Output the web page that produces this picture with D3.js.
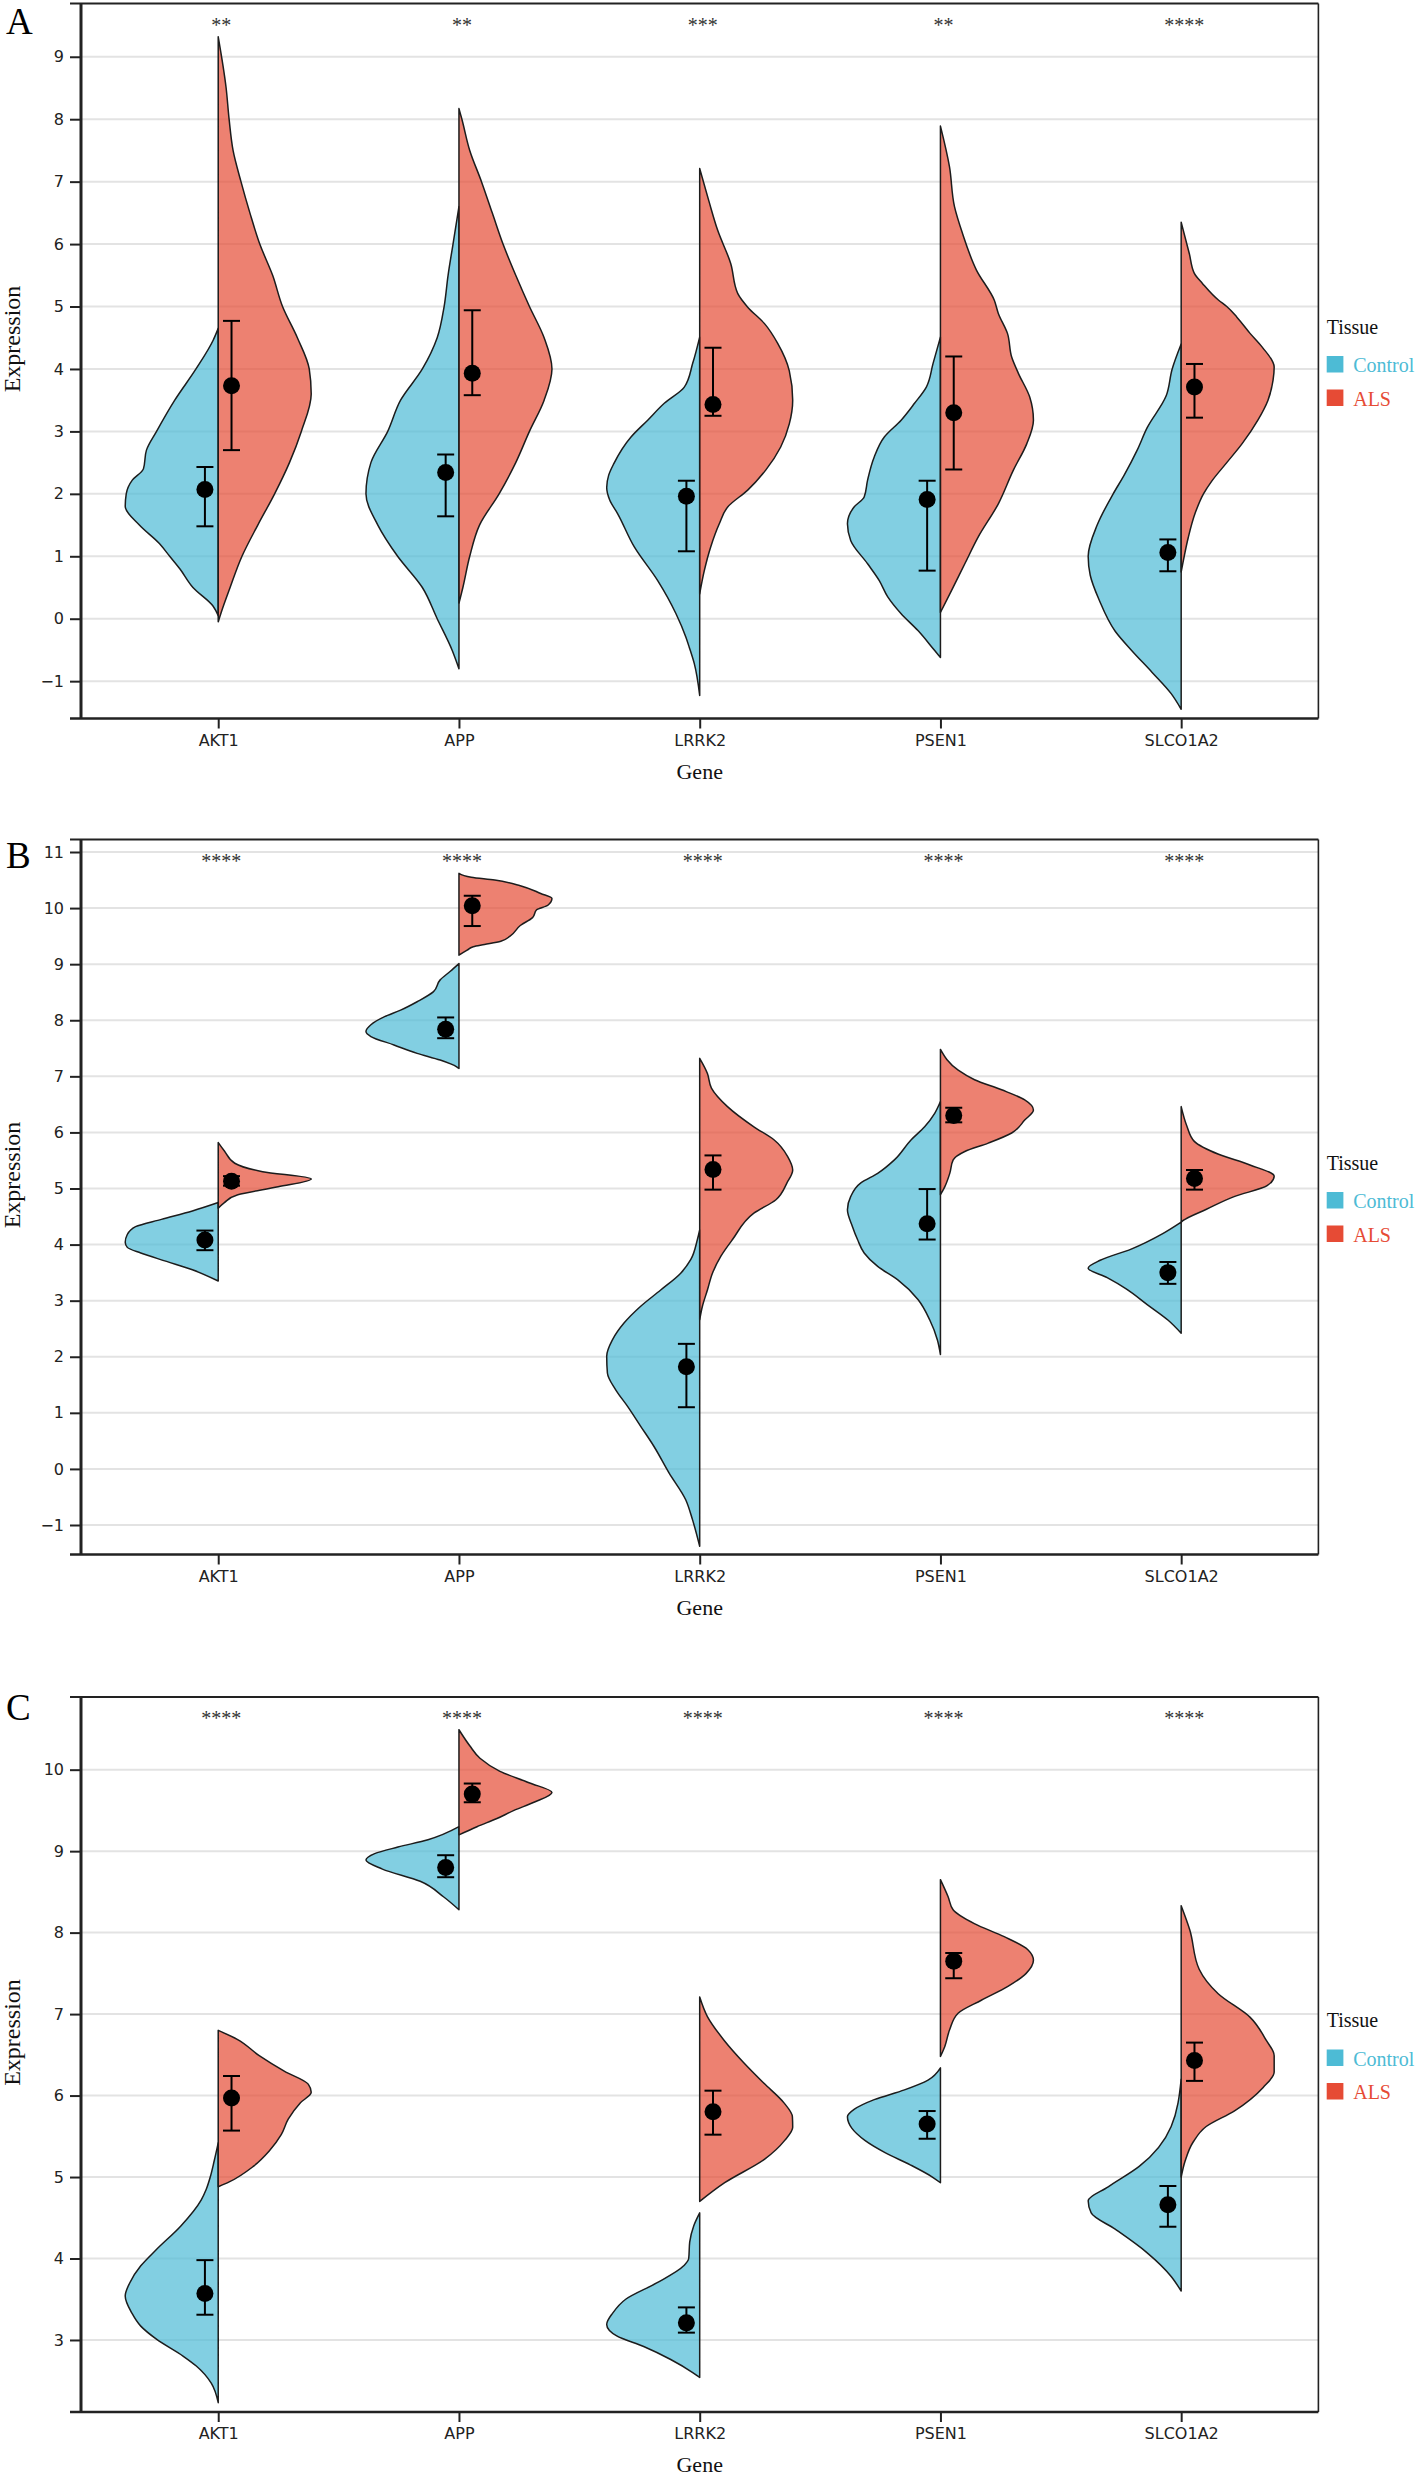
<!DOCTYPE html>
<html>
<head>
<meta charset="utf-8">
<script src="https://cdn.jsdelivr.net/npm/d3@7"></script>
<style>
  html, body { margin: 0; padding: 0; background: #fff; }
  svg { display: block; }
</style>
</head>
<body>
<div id="chart"></div>
<script>
// ---------------- DATA ----------------
const genes = ["AKT1", "APP", "LRRK2", "PSEN1", "SLCO1A2"];
const groups = ["Control", "ALS"];

// Panel A
const panelA_yTicks = [-1, 0, 1, 2, 3, 4, 5, 6, 7, 8, 9];
const panelA_sig = ["**", "**", "***", "**", "****"];
const panelA_controlDensity = [
  [[0.05,0],[0.2,5],[0.5,25],[0.8,38],[1.0,48],[1.2,58],[1.5,78],[1.8,92],[2.0,91],[2.22,85],[2.4,74],[2.7,71],[3.0,61],[3.5,43],[4.0,22],[4.46,5],[4.65,0]],
  [[-0.8,0],[-0.5,7],[0,22],[0.5,37],[1.0,62],[1.5,82],[2.0,94],[2.5,89],[3.0,72],[3.5,59],[4.0,37],[4.5,22],[5.0,15],[5.5,11],[6.0,6],[6.6,0]],
  [[-1.23,0],[-0.72,5.4],[-0.46,10.4],[-0.3,13.7],[0.08,23.7],[0.61,42],[1.15,65.4],[1.68,82],[1.9,90],[2.1,93],[2.3,91],[2.48,86],[2.91,68.7],[3.18,52],[3.45,35.4],[3.71,15.4],[4.09,7],[4.51,0]],
  [[-0.62,0],[-0.51,5.7],[-0.19,22.3],[0.08,39],[0.35,52.3],[0.61,60.7],[0.88,72.3],[1.25,89],[1.52,92.3],[1.79,85.7],[1.95,75.7],[2.22,72.3],[2.59,65.7],[2.91,55.7],[3.18,39],[3.45,25.7],[3.71,14],[4.09,7.3],[4.51,0]],
  [[-1.45,0],[-1.2,10],[-0.86,29],[-0.5,50],[-0.2,66],[0.3,82],[0.7,91],[1.0,93],[1.5,84],[2.0,68],[2.3,57],[2.7,44],[3.06,34],[3.57,15],[4.0,9],[4.4,0]]
];
const panelA_alsDensity = [
  [[-0.05,0],[0.1,3],[0.5,12],[1.0,24],[1.5,40],[2.0,57],[2.5,72],[3.0,84],[3.6,94],[4.0,92],[4.5,80],[5.0,65],[5.5,55],[6.0,42],[6.5,32],[7.0,23],[7.5,15],[8.0,11],[8.5,8],[9.32,0]],
  [[0.25,0],[0.5,4],[1.0,11],[1.5,21],[2.0,41],[2.5,58],[3.0,72],[3.5,87],[4.0,95],[4.5,87],[5.0,72],[5.5,58],[6.0,45],[6.5,34],[7.0,23],[7.5,11],[8.0,3],[8.17,0]],
  [[0.4,0],[0.77,4.6],[1.15,11],[1.52,19.6],[1.79,28],[2.06,48],[2.38,66],[2.75,81],[3.12,89.6],[3.5,93],[3.97,89.6],[4.41,78],[4.73,64.6],[4.99,48],[5.21,38],[5.69,31],[6.22,18],[6.7,9],[7.21,0]],
  [[0.1,0],[0.45,11],[0.88,24.3],[1.31,37.7],[1.84,57.7],[2.38,72.7],[2.8,86],[3.18,92.7],[3.55,89],[3.93,77.7],[4.19,71],[4.57,66.8],[4.89,57.7],[5.1,53.7],[5.58,36],[6.17,22],[6.6,14],[7.24,9],[7.89,0]],
  [[0.75,0],[1.0,3],[1.3,7],[1.7,14],[2.0,22],[2.2,30],[2.5,45],[2.8,60],[3.18,75.7],[3.5,85.7],[3.82,90.7],[4.03,91.8],[4.35,80],[4.57,68],[4.83,55],[5.0,45],[5.1,37],[5.37,21],[5.53,13],[5.85,8],[6.35,0]]
];
const panelA_controlMean = [2.07, 2.34, 1.96, 1.91, 1.06];
const panelA_controlLow  = [1.48, 1.64, 1.08, 0.77, 0.76];
const panelA_controlHigh = [2.43, 2.63, 2.21, 2.21, 1.27];
const panelA_alsMean = [3.73, 3.93, 3.43, 3.30, 3.71];
const panelA_alsLow  = [2.70, 3.58, 3.25, 2.39, 3.22];
const panelA_alsHigh = [4.77, 4.94, 4.34, 4.20, 4.08];

// Panel B
const panelB_yTicks = [-1, 0, 1, 2, 3, 4, 5, 6, 7, 8, 9, 10, 11];
const panelB_sig = ["****", "****", "****", "****", "****"];
const panelB_controlDensity = [
  [[3.35,0],[3.55,25],[3.7,50],[3.85,75],[3.95,88],[4.04,90],[4.18,88],[4.32,80],[4.45,55],[4.6,25],[4.75,0]],
  [[7.14,0],[7.17,2.3],[7.29,19],[7.41,42.3],[7.56,65.7],[7.71,89],[7.8,94],[7.92,89],[8.06,75.7],[8.18,59],[8.33,42.3],[8.51,25.7],[8.72,19],[8.87,9],[9.01,0]],
  [[-1.38,0],[-0.9,7.3],[-0.55,14],[-0.07,30.7],[0.4,45.7],[0.76,59],[1.12,72.3],[1.41,84],[1.71,92.3],[2.01,93],[2.3,87.3],[2.6,75.7],[2.9,59],[3.19,39],[3.49,19],[3.73,9],[4.09,2.3],[4.26,0]],
  [[2.04,0],[2.3,3],[2.66,10.7],[3.02,22.3],[3.37,42.3],[3.61,62.3],[3.85,75.7],[4.09,82.3],[4.32,87.3],[4.62,92.3],[4.86,89],[5.1,79],[5.27,62.3],[5.51,45.7],[5.87,29],[6.1,15.7],[6.34,5.7],[6.55,0]],
  [[2.42,0],[2.65,13],[2.93,34],[3.21,55],[3.41,74],[3.58,93],[3.72,81],[3.92,50],[4.2,18],[4.4,0]]
];
const panelB_alsDensity = [
  [[4.65,0],[4.75,6],[4.89,19],[5.03,58],[5.17,90],[5.3,43],[5.45,16],[5.67,6],[5.82,0]],
  [[9.16,0],[9.25,8],[9.31,14],[9.35,25],[9.41,41],[9.5,50],[9.69,60],[9.83,72],[9.97,76],[10.05,87],[10.17,91],[10.26,80],[10.4,60],[10.5,35],[10.55,12],[10.62,0]],
  [[2.66,0],[2.9,2.7],[3.19,7.7],[3.49,12.7],[3.79,21],[4.09,32.7],[4.56,54],[4.8,76],[5.1,87],[5.33,92.7],[5.57,87.7],[5.87,74],[6.1,54],[6.46,27.7],[6.79,11.7],[7.05,7.7],[7.32,0]],
  [[4.89,0],[5.03,4.3],[5.27,9.3],[5.51,12.7],[5.66,24.3],[5.81,47.7],[5.99,71],[6.22,84],[6.4,92.7],[6.58,84],[6.76,61],[6.94,34],[7.11,17.7],[7.48,0]],
  [[4.4,0],[4.43,2],[4.63,25],[4.86,53],[5.05,85],[5.22,92],[5.42,68],[5.61,37],[5.84,13],[6.12,5.5],[6.46,0]]
];
const panelB_controlMean = [4.08, 7.84, 1.82, 4.37, 3.50];
const panelB_controlLow  = [3.90, 7.68, 1.10, 4.09, 3.30];
const panelB_controlHigh = [4.25, 8.05, 2.23, 4.99, 3.69];
const panelB_alsMean = [5.13, 10.04, 5.34, 6.30, 5.18];
const panelB_alsLow  = [5.05, 9.68, 4.98, 6.18, 4.98];
const panelB_alsHigh = [5.22, 10.22, 5.59, 6.44, 5.33];

// Panel C
const panelC_yTicks = [3, 4, 5, 6, 7, 8, 9, 10];
const panelC_sig = ["****", "****", "****", "****", "****"];
const panelC_controlDensity = [
  [[2.23,0],[2.47,7],[2.68,22],[2.8,35],[3.01,62],[3.17,77.7],[3.33,86.6],[3.54,93.3],[3.7,88.8],[3.91,77.7],[4.11,62],[4.4,37.5],[4.72,17],[4.85,12],[5.0,8],[5.2,4],[5.42,0]],
  [[8.28,0],[8.44,16],[8.63,40],[8.78,79],[8.89,96],[8.97,87],[9.05,63],[9.14,32],[9.3,0]],
  [[2.54,0],[2.6,7],[2.76,29],[2.92,56],[3.05,83],[3.19,93],[3.33,87],[3.5,74],[3.7,43],[3.91,16],[4.0,11],[4.2,10],[4.4,6],[4.56,0]],
  [[4.93,0],[5.0,8],[5.15,30],[5.3,55],[5.45,75],[5.6,88],[5.74,92.3],[5.83,85.7],[5.95,65.7],[6.07,35.7],[6.19,12.3],[6.34,0]],
  [[3.6,0],[3.78,10],[4.07,34],[4.36,66],[4.56,90],[4.71,93],[4.88,73],[5.13,42],[5.62,10],[6.2,0]]
];
const panelC_alsDensity = [
  [[4.88,0],[4.94,11],[5.13,35],[5.32,51],[5.52,63],[5.71,70],[5.91,82],[6.04,93],[6.14,90],[6.3,66],[6.49,41],[6.69,19],[6.8,0]],
  [[9.2,0],[9.3,18],[9.4,38],[9.5,55],[9.6,75],[9.72,93],[9.84,70],[9.98,41],[10.14,21],[10.29,11],[10.49,0]],
  [[4.7,0],[4.93,25],[5.22,65],[5.45,85],[5.61,93],[5.74,92.7],[5.91,84.3],[6.15,64.3],[6.4,44.3],[6.68,24.3],[6.97,7.7],[7.21,0]],
  [[6.48,0],[6.6,4.3],[6.81,9.3],[7.01,17.7],[7.17,41],[7.34,67.7],[7.5,86],[7.66,93.3],[7.79,87.7],[7.95,64],[8.11,34],[8.28,12.7],[8.44,7.7],[8.65,0]],
  [[5.0,0],[5.2,4],[5.43,12],[5.62,25],[5.81,53],[6.1,82],[6.29,93],[6.49,93],[6.68,85],[6.96,69],[7.25,37],[7.55,18],[8.03,8.7],[8.33,0]]
];
const panelC_controlMean = [3.57, 8.80, 3.21, 5.65, 4.66];
const panelC_controlLow  = [3.31, 8.68, 3.09, 5.47, 4.39];
const panelC_controlHigh = [3.98, 8.95, 3.40, 5.81, 4.89];
const panelC_alsMean = [5.97, 9.70, 5.80, 7.65, 6.43];
const panelC_alsLow  = [5.57, 9.60, 5.52, 7.44, 6.18];
const panelC_alsHigh = [6.24, 9.83, 6.06, 7.75, 6.65];

// ---------------- LAYOUT / STYLE ----------------
const W = 1419, H = 2480;
const plotLeft = 81, plotRight = 1318.4, spineExt = 70;
const panelHeight = 715;
const colors = { Control: "#4DBBD5", ALS: "#E64B35" };
const fillOpacity = 0.7;
const maxHalfWidth = 93;
const dodge = 13.3;

const panels = [
  { letter: "A", top: 3.5,   domain: [-1.598, 9.853], ticks: panelA_yTicks, sig: panelA_sig,
    cDen: panelA_controlDensity, aDen: panelA_alsDensity,
    cM: panelA_controlMean, cL: panelA_controlLow, cH: panelA_controlHigh,
    aM: panelA_alsMean, aL: panelA_alsLow, aH: panelA_alsHigh, letterY: 34 },
  { letter: "B", top: 839.5, domain: [-1.526, 11.223], ticks: panelB_yTicks, sig: panelB_sig,
    cDen: panelB_controlDensity, aDen: panelB_alsDensity,
    cM: panelB_controlMean, cL: panelB_controlLow, cH: panelB_controlHigh,
    aM: panelB_alsMean, aL: panelB_alsLow, aH: panelB_alsHigh, letterY: 868 },
  { letter: "C", top: 1697,  domain: [2.116, 10.892], ticks: panelC_yTicks, sig: panelC_sig,
    cDen: panelC_controlDensity, aDen: panelC_alsDensity,
    cM: panelC_controlMean, cL: panelC_controlLow, cH: panelC_controlHigh,
    aM: panelC_alsMean, aL: panelC_alsLow, aH: panelC_alsHigh, letterY: 1720 }
];

const svg = d3.select("#chart").append("svg")
  .attr("width", W).attr("height", H)
  .attr("viewBox", `0 0 ${W} ${H}`);
svg.append("rect").attr("width", W).attr("height", H).attr("fill", "#fff");

const x = d3.scalePoint().domain(genes).range([plotLeft, plotRight]).padding(0.57);
const halfW = d3.scaleLinear().domain([0, 1]).range([0, maxHalfWidth]);
const sansFont = "'DejaVu Sans', sans-serif";
const serifFont = "'Liberation Serif', 'Times New Roman', serif";
const fmt = d3.format("d");

panels.forEach(p => {
  const top = p.top, bottom = p.top + panelHeight;
  const y = d3.scaleLinear().domain(p.domain).range([bottom, top]);
  const g = svg.append("g");

  // gridlines
  g.append("g").selectAll("line").data(p.ticks).join("line")
    .attr("x1", plotLeft).attr("x2", plotRight)
    .attr("y1", d => y(d)).attr("y2", d => y(d))
    .attr("stroke", "#e3e3e3").attr("stroke-width", 2);

  // violins
  const drawHalf = (dens, gi, side, group) => {
    const cx = x(genes[gi]);
    const mx = d3.max(dens, d => d[1]);
    const area = d3.area()
      .curve(d3.curveMonotoneY)
      .y(d => y(d[0]))
      .x0(cx)
      .x1(d => cx + side * halfW(d[1] / mx));
    g.append("path")
      .datum(dens)
      .attr("d", area)
      .attr("fill", colors[group])
      .attr("fill-opacity", fillOpacity)
      .attr("stroke", "#1c1c1c")
      .attr("stroke-width", 1.5)
      .attr("stroke-linejoin", "round");
  };
  genes.forEach((gname, i) => {
    drawHalf(p.cDen[i], i, -1, "Control");
    drawHalf(p.aDen[i], i, 1, "ALS");
  });

  // mean points + error bars
  const drawPoint = (gi, m, lo, hi, off) => {
    const cx = x(genes[gi]) + off;
    const eg = g.append("g").attr("stroke", "#000").attr("stroke-width", 2);
    eg.append("line").attr("x1", cx).attr("x2", cx).attr("y1", y(lo)).attr("y2", y(hi));
    eg.append("line").attr("x1", cx - 8.5).attr("x2", cx + 8.5).attr("y1", y(lo)).attr("y2", y(lo));
    eg.append("line").attr("x1", cx - 8.5).attr("x2", cx + 8.5).attr("y1", y(hi)).attr("y2", y(hi));
    g.append("circle").attr("cx", cx).attr("cy", y(m)).attr("r", 8.5).attr("fill", "#000");
  };
  genes.forEach((gname, i) => {
    drawPoint(i, p.cM[i], p.cL[i], p.cH[i], -dodge);
    drawPoint(i, p.aM[i], p.aL[i], p.aH[i], dodge);
  });

  // significance stars
  g.append("g").selectAll("text").data(p.sig).join("text")
    .attr("x", (d, i) => x(genes[i]) + 3)
    .attr("y", top + 28)
    .attr("text-anchor", "middle")
    .attr("font-family", serifFont)
    .attr("font-size", 20)
    .attr("fill", "#333")
    .text(d => d);

  // y axis
  const yAxis = d3.axisLeft(y).tickValues(p.ticks).tickSize(11).tickPadding(6).tickFormat(fmt);
  const ya = g.append("g").attr("transform", `translate(${plotLeft},0)`).call(yAxis);
  ya.select(".domain").remove();
  ya.selectAll(".tick line").attr("stroke", "#222").attr("stroke-width", 2);
  ya.selectAll(".tick text").attr("font-family", sansFont).attr("font-size", 16).attr("fill", "#222");

  // x axis
  const xAxis = d3.axisBottom(x).tickSize(10).tickPadding(6);
  const xa = g.append("g").attr("transform", `translate(0,${bottom})`).call(xAxis);
  xa.select(".domain").remove();
  xa.selectAll(".tick line").attr("stroke", "#222").attr("stroke-width", 2);
  xa.selectAll(".tick text").attr("font-family", sansFont).attr("font-size", 16).attr("fill", "#222");

  // spines
  g.append("line").attr("x1", spineExt).attr("x2", plotRight).attr("y1", top).attr("y2", top)
    .attr("stroke", "#222").attr("stroke-width", 2.2);
  g.append("line").attr("x1", spineExt).attr("x2", plotRight).attr("y1", bottom).attr("y2", bottom)
    .attr("stroke", "#222").attr("stroke-width", 2.5);
  g.append("line").attr("x1", plotLeft).attr("x2", plotLeft).attr("y1", top).attr("y2", bottom)
    .attr("stroke", "#222").attr("stroke-width", 3);
  g.append("line").attr("x1", plotRight).attr("x2", plotRight).attr("y1", top).attr("y2", bottom)
    .attr("stroke", "#222").attr("stroke-width", 1.6);

  // axis titles
  g.append("text")
    .attr("transform", `translate(20,${(top + bottom) / 2 - 22}) rotate(-90)`)
    .attr("text-anchor", "middle")
    .attr("font-family", serifFont).attr("font-size", 24).attr("fill", "#111")
    .text("Expression");
  g.append("text")
    .attr("x", x("LRRK2")).attr("y", bottom + 60)
    .attr("text-anchor", "middle")
    .attr("font-family", serifFont).attr("font-size", 22).attr("fill", "#111")
    .text("Gene");

  // panel letter
  g.append("text").attr("x", 6).attr("y", p.letterY)
    .attr("font-family", serifFont).attr("font-size", 37).attr("fill", "#000")
    .text(p.letter);

  // legend
  const lg = g.append("g").attr("transform", `translate(1326.7,${top})`);
  lg.append("text").attr("x", 0).attr("y", 330)
    .attr("font-family", serifFont).attr("font-size", 20).attr("fill", "#111").text("Tissue");
  groups.forEach((grp, k) => {
    const yy = 352.5 + k * 33.5;
    lg.append("rect").attr("x", 0).attr("y", yy).attr("width", 16.7).attr("height", 16.5)
      .attr("fill", colors[grp]);
    lg.append("text").attr("x", 26.5).attr("y", yy + 16)
      .attr("font-family", serifFont).attr("font-size", 20).attr("fill", colors[grp]).text(grp);
  });
});
</script>
</body>
</html>
